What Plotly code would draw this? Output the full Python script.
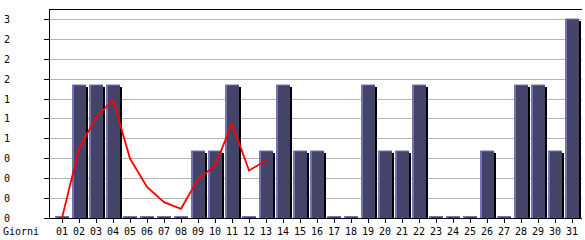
import plotly.graph_objects as go

days = ["01","02","03","04","05","06","07","08","09","10","11","12","13","14","15","16",
        "17","18","19","20","21","22","23","24","25","26","27","28","29","30","31"]
visits = [0,2,2,2,0,0,0,0,1,1,2,0,1,2,1,1,0,0,2,1,1,2,0,0,0,1,0,2,2,1,3]
trend_days = days[:13]
trend = [0, 1.05, 1.52, 1.79, 0.90, 0.47, 0.24, 0.14, 0.59, 0.79, 1.43, 0.72, 0.87]
y_tick_vals = [0, 0.3, 0.6, 0.9, 1.2, 1.5, 1.8, 2.1, 2.4, 2.7, 3.0]
y_tick_text = ["0","0","0","0","1","1","1","2","2","2","3"]
x_title = "Giorni"

SLOT = 17.0
PX = 3.15 / 210.0
FONT = dict(family="DejaVu Sans Mono", size=10, color="black")

n = len(days)
fig = go.Figure()
# black shadow
fig.add_trace(go.Bar(x=days, y=[v - PX for v in visits], base=[0]*n,
                     width=[2/SLOT]*n, offset=[7/SLOT]*n,
                     marker=dict(color="#000000", line=dict(width=0)), hoverinfo="skip"))
# light highlight
fig.add_trace(go.Bar(x=days, y=[v + 1.5*PX for v in visits], base=[0]*n,
                     width=[14/SLOT]*n, offset=[-7/SLOT]*n,
                     marker=dict(color="#7474b4", line=dict(width=0)), hoverinfo="skip"))
# body
fig.add_trace(go.Bar(x=days, y=[max(v + 0.5*PX, 0) for v in visits], base=[0]*n,
                     width=[12/SLOT]*n, offset=[-5/SLOT]*n,
                     marker=dict(color="#444468", line=dict(width=0)), hoverinfo="skip"))
fig.add_trace(go.Scatter(x=trend_days, y=trend, mode="lines",
                         line=dict(color="#ff0000", width=1.8), hoverinfo="skip"))

for v, t in zip(y_tick_vals, y_tick_text):
    fig.add_annotation(x=0, xref="paper", xanchor="left", xshift=-48,
                       y=v, yref="y", yanchor="middle", text=t, showarrow=False,
                       font=FONT)
fig.add_annotation(x=0, xref="paper", xanchor="left", xshift=-49,
                   y=0, yref="paper", yanchor="top", yshift=-6, text=x_title,
                   showarrow=False, font=FONT)

fig.update_layout(
    width=585, height=240, margin=dict(l=50, r=3, t=10, b=20),
    paper_bgcolor="white", plot_bgcolor="white", barmode="overlay",
    showlegend=False, font=FONT,
    xaxis=dict(type="category", range=[-12/SLOT, 30 + 10/SLOT],
               showgrid=False, showline=True, linecolor="black", linewidth=1,
               mirror=True, ticks="outside", ticklen=4, tickcolor="black",
               tickfont=FONT, fixedrange=True),
    yaxis=dict(range=[0, 3.15], tickvals=y_tick_vals, ticktext=[""]*len(y_tick_vals),
               showgrid=True, gridcolor="#b4b4b4", gridwidth=1,
               showline=True, linecolor="black", linewidth=1,
               ticks="outside", ticklen=5, tickcolor="black", zeroline=False,
               fixedrange=True),
)
fig.write_html("out.html")
